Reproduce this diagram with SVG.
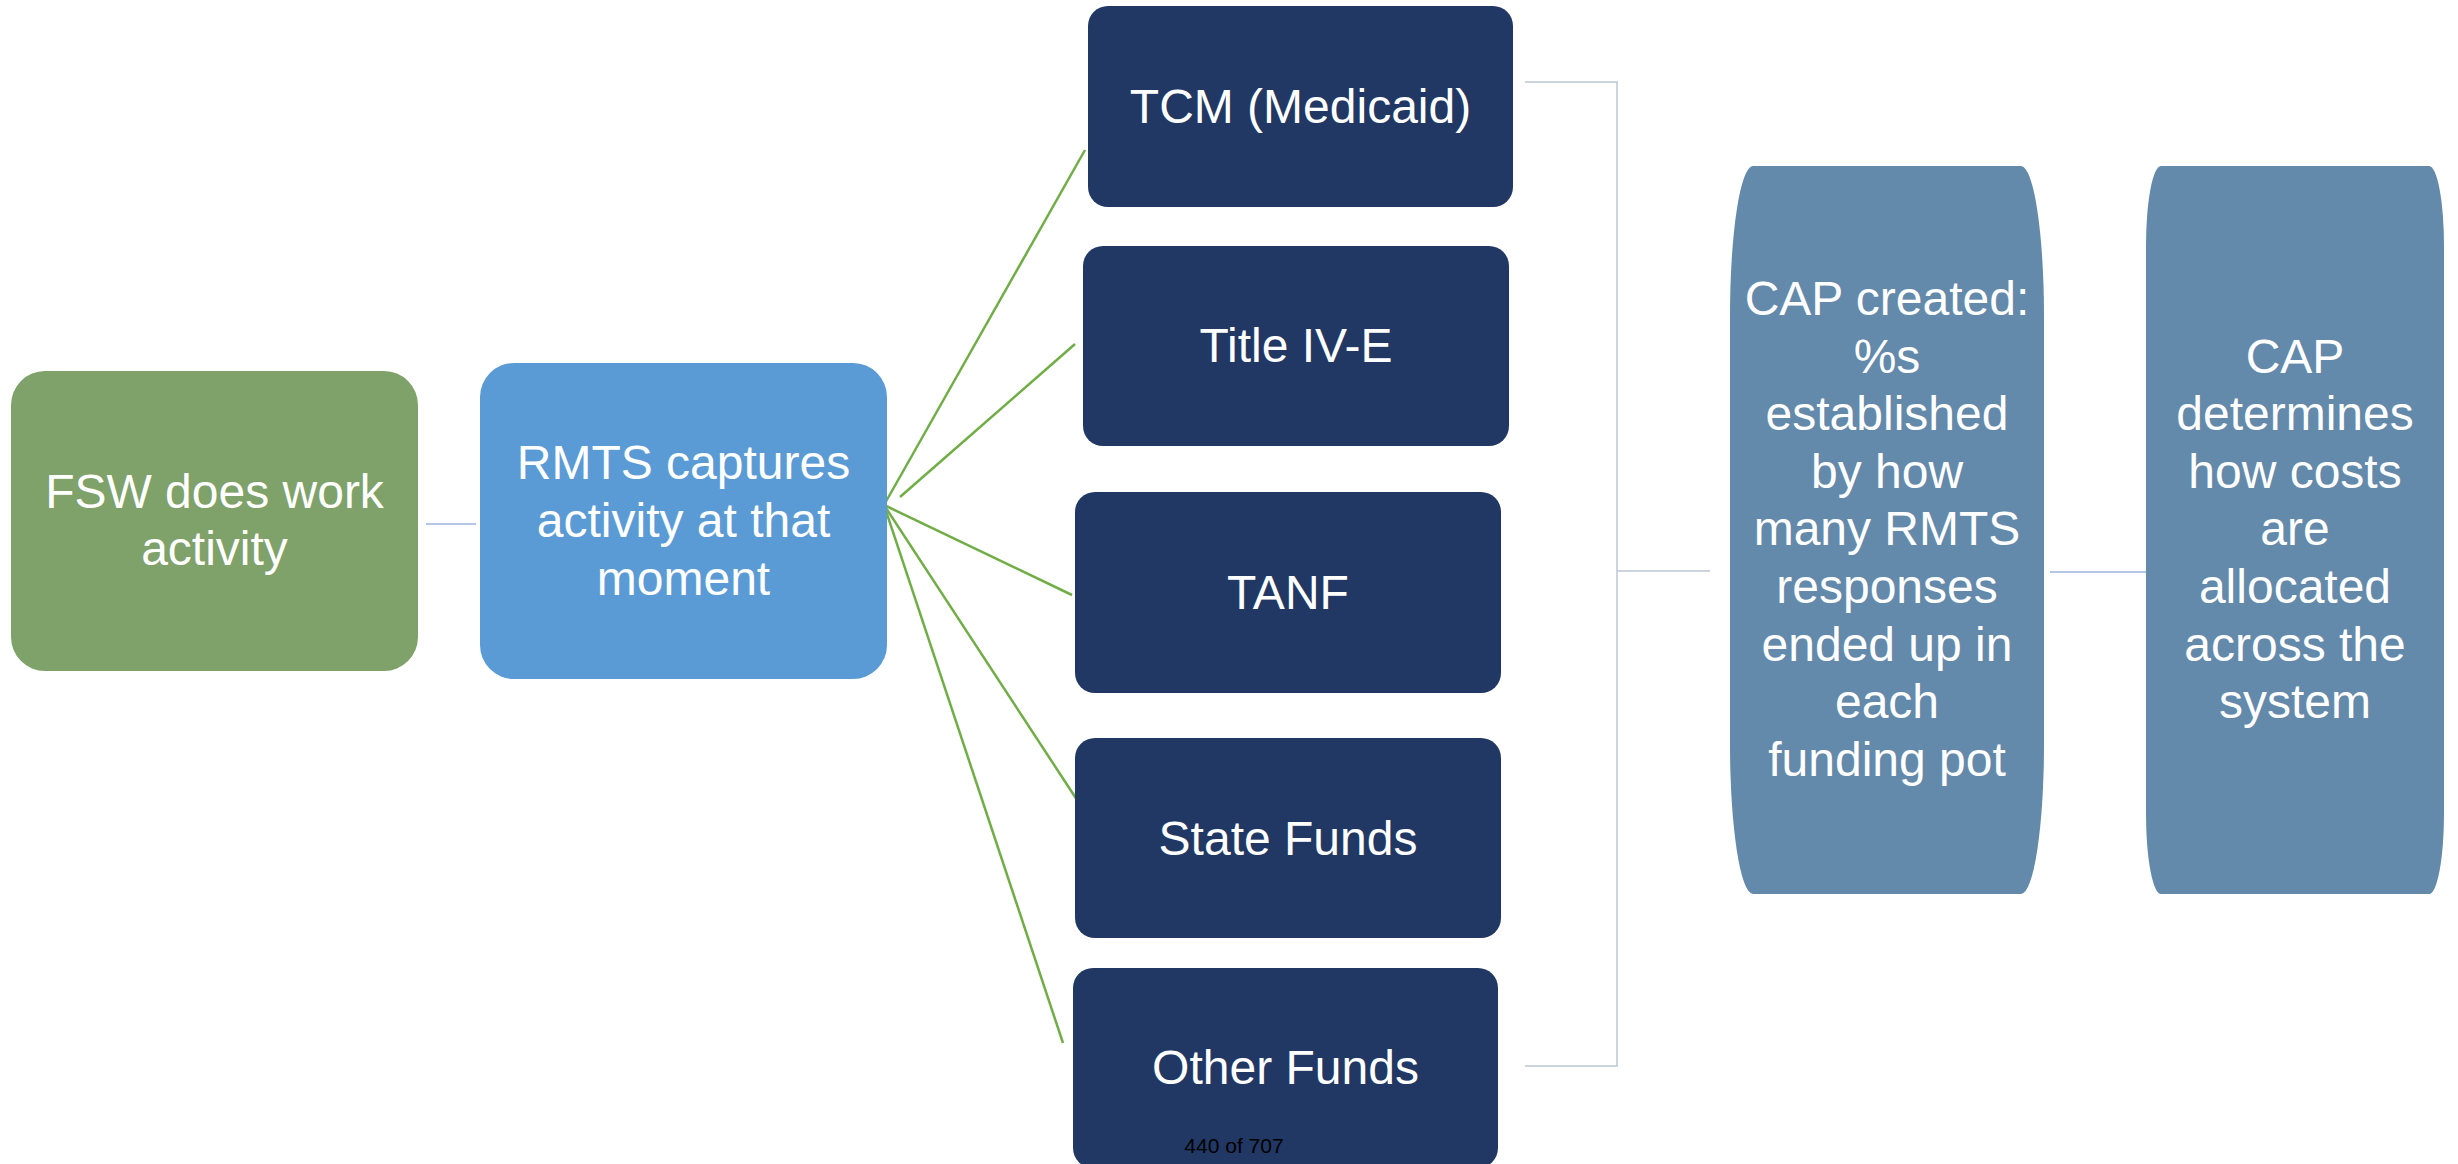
<svg xmlns="http://www.w3.org/2000/svg" width="2458" height="1164" viewBox="0 0 2458 1164">
<style>
text{font-family:"Liberation Sans",Arial,sans-serif;fill:#fff;font-size:48px;text-anchor:middle}
.navy{fill:#213864}
.conn{stroke:#B4C7E7;stroke-width:2;fill:none}
.brk{stroke:#BCC6D6;stroke-width:1.5;fill:none}
.grn{stroke:#70AD47;stroke-width:2.5;fill:none}
.cap{fill:#6389AB}
</style>
<rect width="2458" height="1164" fill="#fff"/>
<g id="connectors">
<line class="conn" x1="426" y1="524" x2="476" y2="524"/>
<line class="grn" x1="884" y1="505" x2="1085" y2="150"/>
<line class="grn" x1="900" y1="497" x2="1075" y2="344"/>
<line class="grn" x1="884" y1="505" x2="1072" y2="595"/>
<line class="grn" x1="884" y1="505" x2="1081" y2="806"/>
<line class="grn" x1="884" y1="505" x2="1063" y2="1043"/>
<polyline class="brk" points="1525,82 1617,82 1617,1066 1525,1066"/>
<line class="brk" x1="1617" y1="571" x2="1710" y2="571"/>
<line class="conn" x1="2050" y1="572" x2="2151" y2="572"/>
</g>
<g id="fsw">
<rect x="11" y="371" width="407" height="300" rx="34" fill="#7FA16A"/>
<text x="214.5" y="508">FSW does work</text>
<text x="214.5" y="565">activity</text>
</g>
<g id="rmts">
<rect x="480" y="363" width="407" height="316" rx="34" fill="#5B9BD5"/>
<text x="683.5" y="479">RMTS captures</text>
<text x="683.5" y="537">activity at that</text>
<text x="683.5" y="595">moment</text>
</g>
<g id="tcm">
<rect class="navy" x="1088" y="6" width="425" height="201" rx="20"/>
<text x="1300.5" y="123">TCM (Medicaid)</text>
</g>
<g id="title4e">
<rect class="navy" x="1083" y="246" width="426" height="200" rx="20"/>
<text x="1296" y="362">Title IV-E</text>
</g>
<g id="tanf">
<rect class="navy" x="1075" y="492" width="426" height="201" rx="20"/>
<text x="1288" y="609">TANF</text>
</g>
<g id="state">
<rect class="navy" x="1075" y="738" width="426" height="200" rx="20"/>
<text x="1288" y="855">State Funds</text>
</g>
<g id="other">
<rect class="navy" x="1073" y="968" width="425" height="200" rx="20"/>
<text x="1285.5" y="1084">Other Funds</text>
</g>
<g id="cap1">
<rect class="cap" x="1730" y="166" width="314" height="728" rx="23" ry="150"/>
<text x="1887" y="315">CAP created:</text>
<text x="1887" y="373">%s</text>
<text x="1887" y="430">established</text>
<text x="1887" y="488">by how</text>
<text x="1887" y="545">many RMTS</text>
<text x="1887" y="603">responses</text>
<text x="1887" y="661">ended up in</text>
<text x="1887" y="718">each</text>
<text x="1887" y="776">funding pot</text>
</g>
<g id="cap2">
<rect class="cap" x="2146" y="166" width="298" height="728" rx="15" ry="80"/>
<text x="2295" y="373">CAP</text>
<text x="2295" y="430">determines</text>
<text x="2295" y="488">how costs</text>
<text x="2295" y="545">are</text>
<text x="2295" y="603">allocated</text>
<text x="2295" y="661">across the</text>
<text x="2295" y="718">system</text>
</g>
<text id="pagenum" x="1234" y="1153" style="fill:#000;font-size:21px">440 of 707</text>
</svg>
